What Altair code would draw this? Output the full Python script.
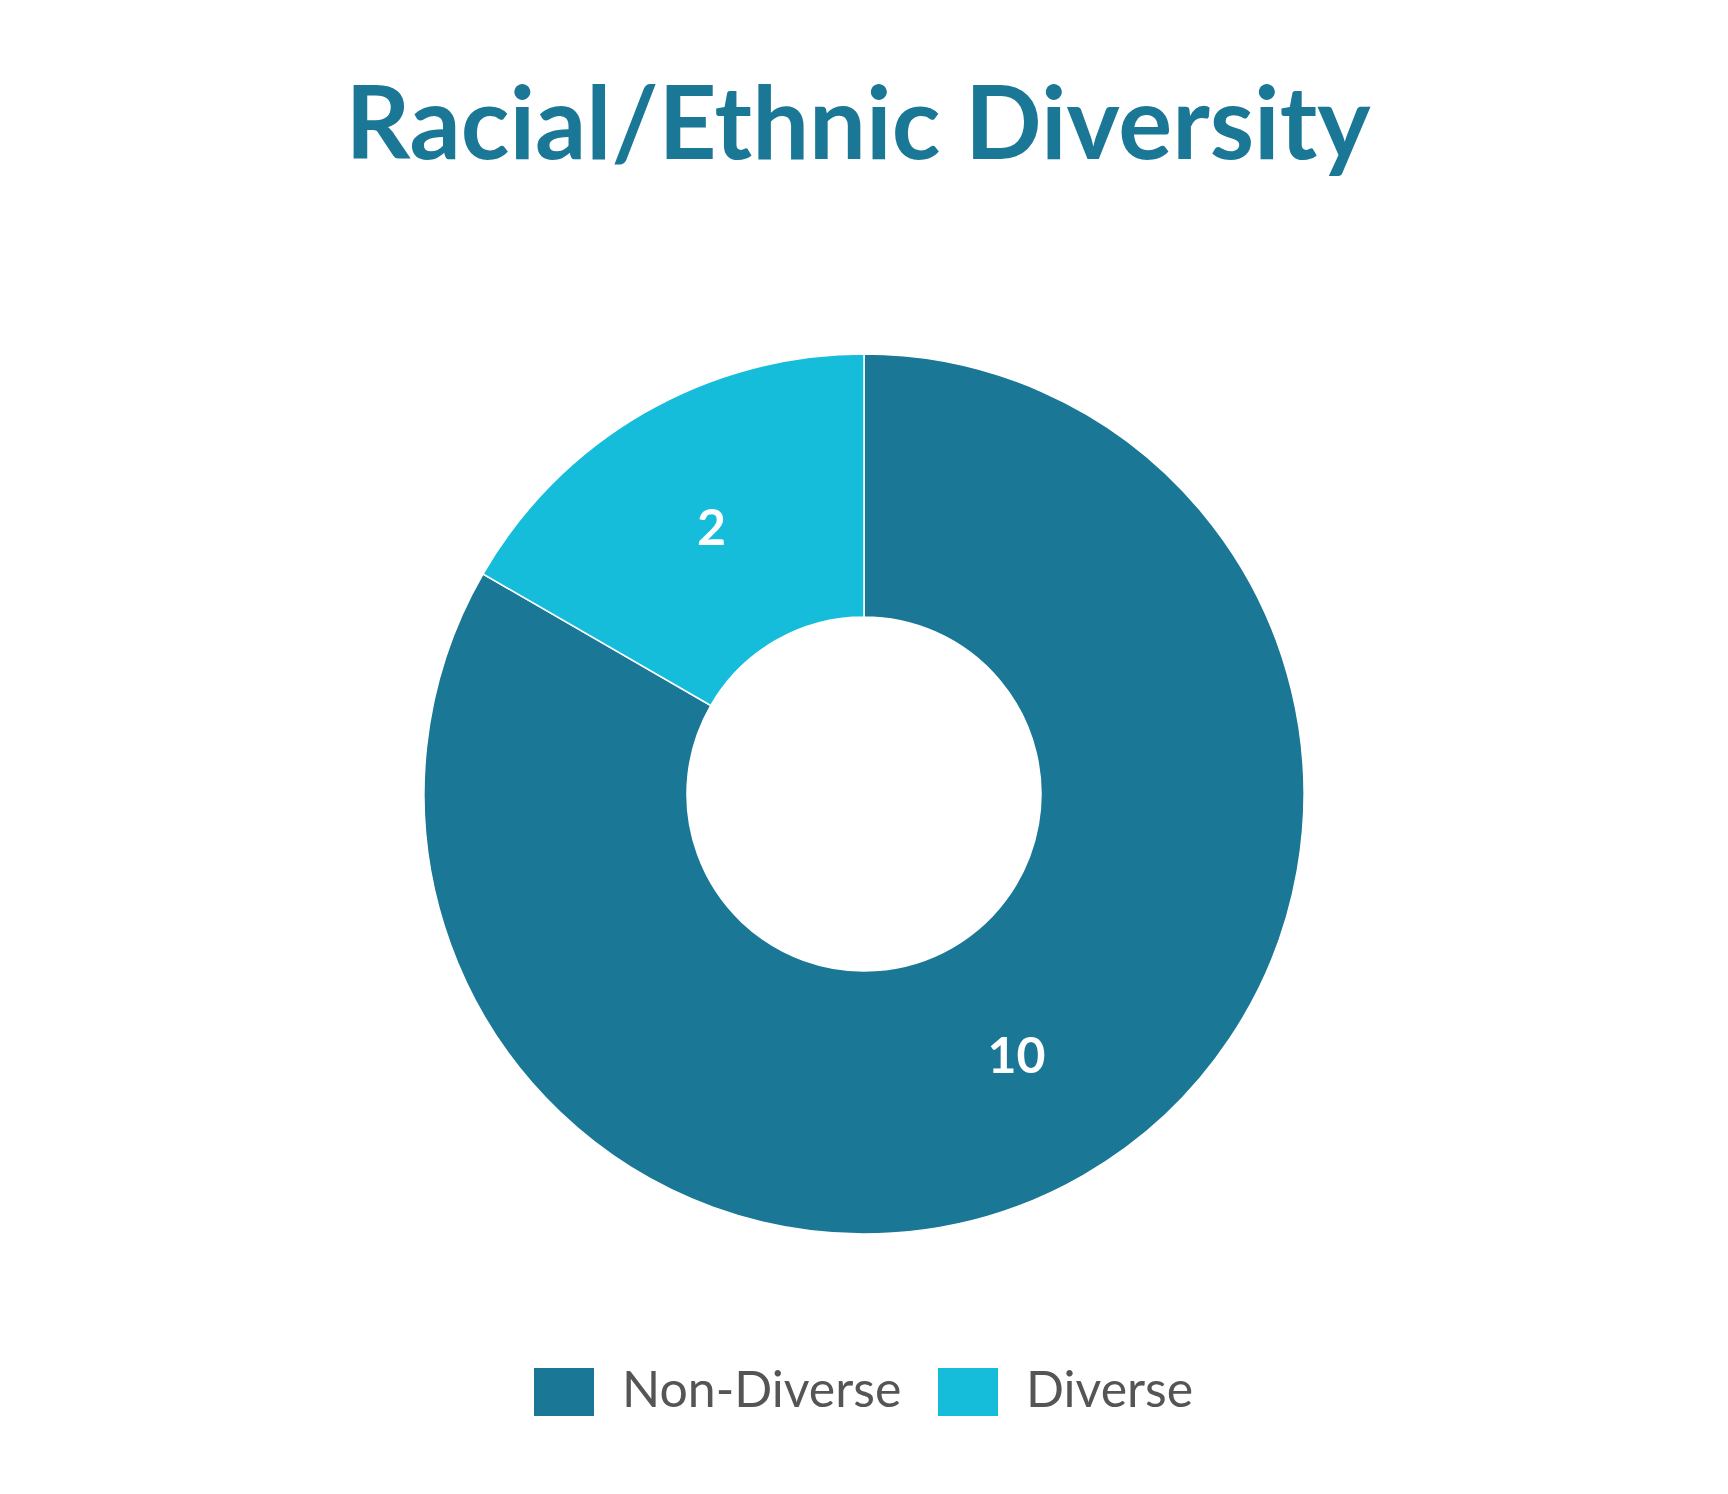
import altair as alt
import pandas as pd

categories = ["Non-Diverse", "Diverse"]
values = [10, 2]
order_idx = [0, 1]
colors = ["#1A7896", "#16BDDB"]

df = pd.DataFrame({"category": categories, "value": values, "idx": order_idx})

base = alt.Chart(df).encode(
    theta=alt.Theta("value:Q", stack=True),
    order=alt.Order("idx:Q"),
)

arc = base.mark_arc(outerRadius=440, innerRadius=177, stroke="white", strokeWidth=1.5).encode(
    color=alt.Color(
        "category:N",
        scale=alt.Scale(domain=categories, range=colors),
        sort=categories,
        legend=alt.Legend(
            title=None,
            orient="none",
            direction="horizontal",
            legendX=526,
            legendY=1354,
            symbolType="M-1,-0.8H1V0.8H-1Z",
            symbolSize=3600,
            symbolStrokeWidth=0,
            symbolOpacity=1,
            labelFont="Lato",
            labelFontSize=50,
            labelColor="#555555",
            labelOffset=28,
            columnPadding=36,
            padding=0,
            labelLimit=500,
        ),
    ),
    x=alt.value(856),
    y=alt.value(786),
)

text = base.mark_text(radius=305, fontSize=50, font="Lato", fontWeight="bold", color="white").encode(
    text=alt.Text("value:Q"),
    x=alt.value(856),
    y=alt.value(786),
)

chart = (
    alt.layer(arc, text)
    .properties(
        width=1712,
        height=1478,
        padding=0,
        autosize=alt.AutoSizeParams(type="none"),
        title=alt.Title(
            "Racial/Ethnic Diversity",
            font="Lato",
            fontSize=101,
            fontWeight="bold",
            color="#1A7896",
            anchor="middle",
            offset=-172,
            dx=-6,
        ),
    )
    .configure_view(stroke=None)
)

chart.save("out.html", embed_options={"renderer": "svg", "actions": False})
